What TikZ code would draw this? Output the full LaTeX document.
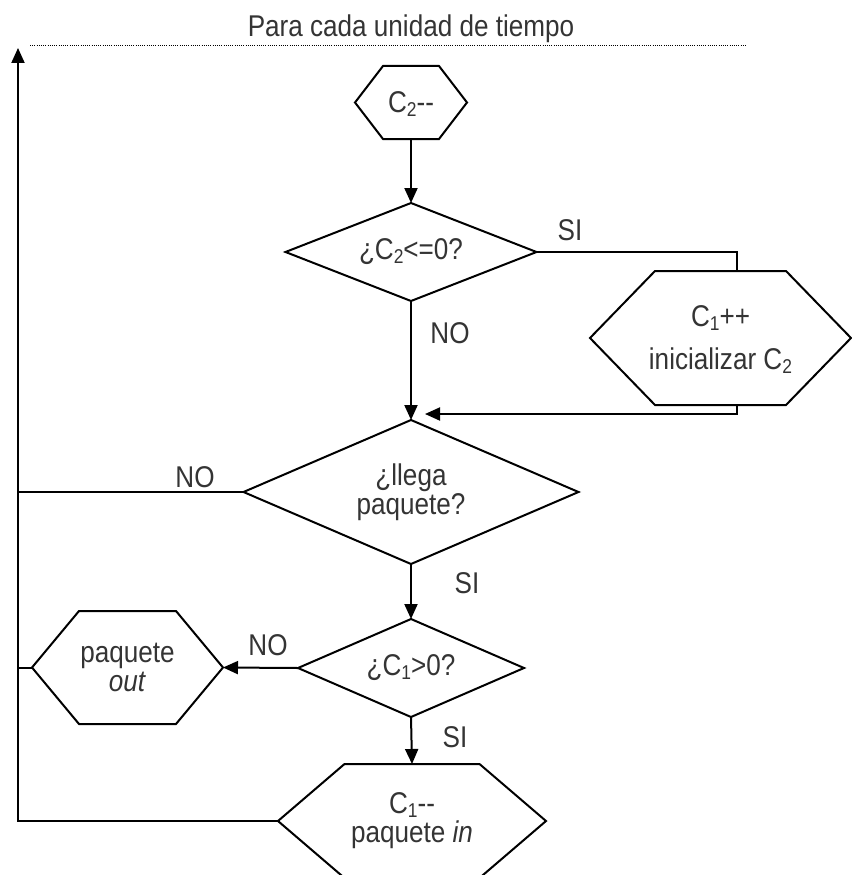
\documentclass[tikz,border=0pt]{standalone}
\usepackage{fontspec}
\setmainfont{Liberation Sans}[FakeStretch=0.87]
\usetikzlibrary{arrows.meta}
\definecolor{inkgray}{RGB}{52,52,52}
% lowered, smaller index digit (C_1, C_2); its depth is not counted
\newcommand\idx[1]{\raisebox{-3.5pt}[\height][0pt]{\fontsize{20}{20}\selectfont #1}}
% hexagon outline around a rectangular node: #1 node name, #2 corner inset
\newcommand\hexagonpath[2]{%
  \draw[line] (#1.west) -- ([xshift=#2]#1.north west) -- ([xshift=-#2]#1.north east)
    -- (#1.east) -- ([xshift=-#2]#1.south east) -- ([xshift=#2]#1.south west) -- cycle;}
% rhombus outline around a rectangular node
\newcommand\rhombuspath[1]{%
  \draw[line] (#1.north) -- (#1.east) -- (#1.south) -- (#1.west) -- cycle;}

\begin{document}
\begin{tikzpicture}[x=1pt,y=-1pt,
  every node/.style={font=\fontsize{30}{29}\selectfont, text=inkgray},
  line/.style={line width=2pt, draw=black},
  flow/.style={line, -{Triangle[length=15pt,width=13pt]}},
  shapebox/.style={rectangle, inner sep=0pt, outer sep=0pt, align=center}
]
\useasboundingbox (0,0) rectangle (851,875);

% heading and dotted rule
\node[anchor=base] (title) at (411,37) {Para cada unidad de tiempo};
\coordinate (rulel) at (30,46);
\coordinate (ruler) at (746,46);
\draw[black, line width=1pt, dash pattern=on 1pt off 1.2pt] (rulel) -- (ruler);

% process steps and decisions
\node[shapebox, minimum width=112pt, minimum height=73pt] (dec2) at (411,102.5) {C\idx{2}-{}-};
\hexagonpath{dec2}{28pt}

\node[shapebox, minimum width=251pt, minimum height=98pt] (q1) at (411,252) {¿C\idx{2}<=0?};
\rhombuspath{q1}

\node[shapebox, minimum width=261pt, minimum height=134pt] (reset) at (720.5,338)
  {C\idx{1}++\\[14pt]inicializar C\idx{2}};
\hexagonpath{reset}{65pt}

\node[shapebox, minimum width=335pt, minimum height=144pt] (q2) at (411,492) {¿llega\\paquete?};
\rhombuspath{q2}

\node[shapebox, minimum width=226pt, minimum height=98pt] (q3) at (411,668) {¿C\idx{1}>0?};
\rhombuspath{q3}

\node[shapebox, minimum width=191pt, minimum height=113pt] (pout) at (127.5,667.5) {paquete\\\textit{out}};
\hexagonpath{pout}{47pt}

\node[shapebox, minimum width=268pt, minimum height=114pt] (pin) at (412,821) {C\idx{1}-{}-\\paquete \textit{in}};
\hexagonpath{pin}{66.5pt}

% connectors
\coordinate (looptop) at (18,48);
\coordinate (mergein) at ([xshift=14pt,yshift=6pt]q2.north);

\draw[flow] (dec2.south) -- (q1.north);
\draw[line] (q1.east) -| ([xshift=16.5pt]reset.north);
\draw[flow] ([xshift=16.5pt]reset.south) |- (mergein);
\draw[flow] (q1.south) -- (q2.north);
\draw[line] (q2.west) -- (q2.west -| looptop);
\draw[flow] (q2.south) -- (q3.north);
\draw[flow] (q3.west) -- (pout.east);
\draw[line] (pout.west) -- (pout.west -| looptop);
\draw[flow] (q3.south) -- (pin.north);
\draw[flow] (pin.west) -| (looptop);

% branch labels
\node (si1) at (570,230) {SI};
\node (no1) at (450,333) {NO};
\node (no2) at (195,477) {NO};
\node (si2) at (467,583) {SI};
\node (no3) at (268,645) {NO};
\node (si3) at (455,737) {SI};
\end{tikzpicture}
\end{document}
